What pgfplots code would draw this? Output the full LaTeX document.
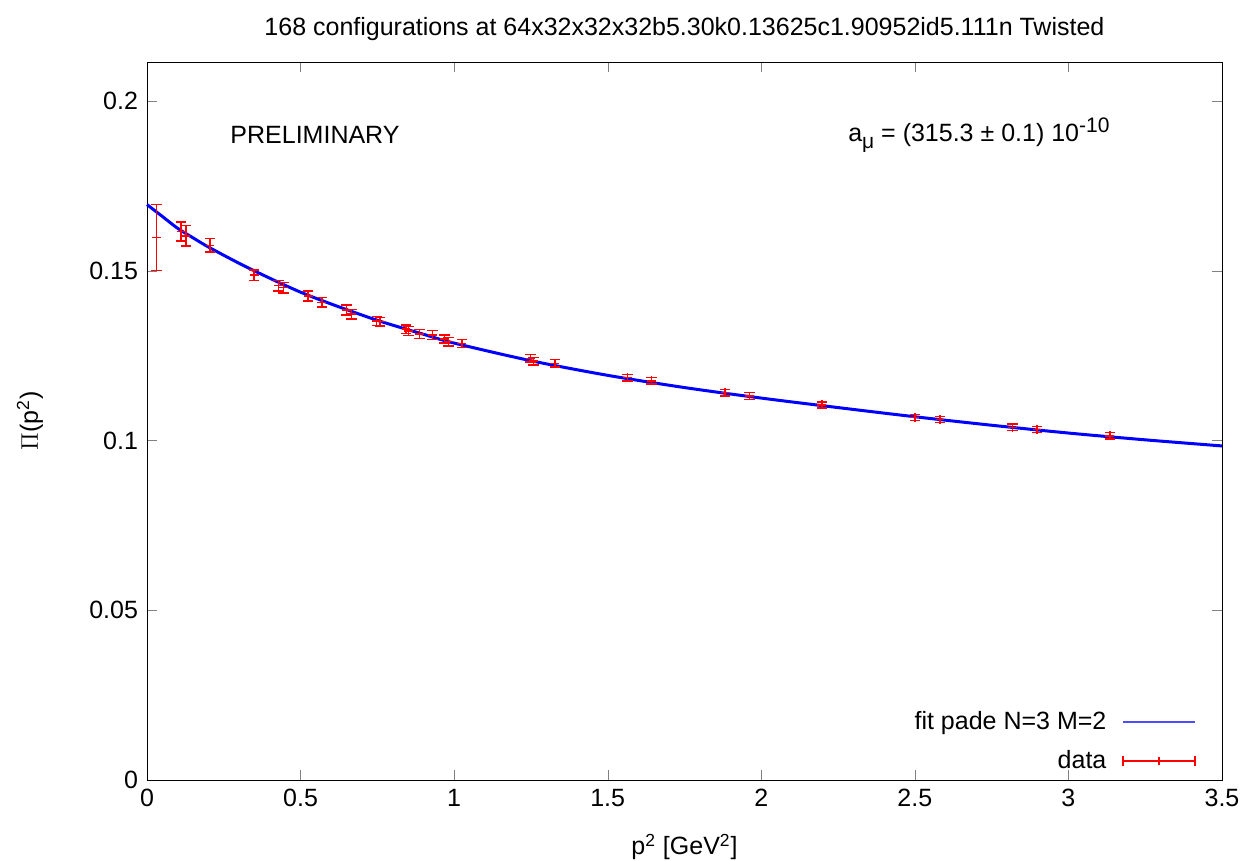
\documentclass[border=0pt]{standalone}
\usepackage{pgfplots}
\usepackage{pgfplotstable}
\pgfplotsset{compat=1.18}
\usepackage{fontspec}
\setmainfont{Liberation Sans}
\pgfplotstableread{
x y e
0.031 0.1598 0.0097
0.111 0.1615 0.0028
0.127 0.1603 0.0030
0.205 0.1575 0.0020
0.349 0.1487 0.0016
0.428 0.1456 0.0015
0.444 0.1450 0.0015
0.525 0.1426 0.0015
0.569 0.1407 0.0014
0.650 0.1384 0.0015
0.666 0.1372 0.0014
0.748 0.1352 0.0013
0.759 0.1350 0.0013
0.843 0.1328 0.0013
0.851 0.1323 0.0013
0.887 0.1314 0.0013
0.930 0.1311 0.0013
0.968 0.1299 0.0012
0.981 0.1291 0.0012
1.025 0.1286 0.0012
1.249 0.1242 0.0011
1.258 0.1234 0.0011
1.328 0.1227 0.0011
1.564 0.1185 0.0010
1.643 0.1176 0.0010
1.882 0.1141 0.0010
1.961 0.1131 0.0010
2.197 0.1105 0.0009
2.500 0.1068 0.0009
2.582 0.1062 0.0009
2.818 0.1039 0.0009
2.898 0.1033 0.0009
3.135 0.1014 0.0009
}\datatable
\begin{document}
\begin{tikzpicture}
\begin{axis}[
  at={(0,0)}, anchor=south west,
  scale only axis, width=537.5pt, height=359pt,
  xmin=0, xmax=3.5, ymin=0, ymax=0.2115,
  xtick={0,0.5,...,3.5}, ytick={0,0.05,0.1,0.15,0.2},
  tick align=inside, tick pos=both,
  major tick length=5pt,
  /pgf/number format/assume math mode=true,
  /pgf/number format/fixed,
  /pgf/number format/precision=2,
  scaled y ticks=false,
  tick label style={font=\fontsize{12.5}{15}\selectfont},
  xticklabel style={yshift=-1pt},
  yticklabel style={xshift=-1pt},
  label style={font=\fontsize{12.5}{15}\selectfont},
  xlabel={p\textsuperscript{2} [GeV\textsuperscript{2}]},
  xlabel style={at={(axis description cs:0.5,0)}, anchor=center, yshift=-33.5pt},
  title={168 configurations at 64x32x32x32b5.30k0.13625c1.90952id5.111n Twisted},
  title style={font=\fontsize{12.5}{15}\selectfont, at={(axis description cs:0.5,1)}, anchor=center, yshift=10.5pt},
  legend plot pos=right,
  legend cell align=right,
  legend style={draw=none, fill=none, at={(rel axis cs:1,0)}, anchor=south east,
    xshift=-10pt, yshift=0pt,
    font=\fontsize{12.5}{15}\selectfont, row sep=5pt,
    /tikz/every odd column/.append style={column sep=6pt}},
  clip=false,
]
\addplot[blue, line width=1.5pt, smooth, forget plot]
coordinates {
(0,0.1695) (0.05,0.1660) (0.1,0.1625) (0.15,0.1597) (0.2,0.1570) (0.3,0.1522)
(0.4,0.1478) (0.5,0.1437) (0.6,0.1402) (0.75,0.1354) (0.9,0.1313) (1.0,0.1287)
(1.25,0.1235) (1.5,0.1192) (1.75,0.1156) (2.0,0.1125) (2.25,0.1097) (2.5,0.1070)
(2.75,0.1045) (3.0,0.1022) (3.25,0.1002) (3.5,0.0984)
};
\addplot[color=red, only marks, mark=+, mark size=2.2pt, line width=0.75pt, forget plot,
  mark options={color=red, solid},
  error bars/.cd, y dir=both, y explicit, error mark=none,
  error bar style={color=red, line width=0.75pt}]
  table[x=x, y=y, y error=e] {\datatable};
\addplot[color=red, only marks, mark=-, mark size=2.6pt, line width=0.75pt, forget plot, mark options={color=red, solid}]
  table[x=x, y expr=\thisrow{y}+\thisrow{e}] {\datatable};
\addplot[color=red, only marks, mark=-, mark size=2.6pt, line width=0.75pt, forget plot, mark options={color=red, solid}]
  table[x=x, y expr=\thisrow{y}-\thisrow{e}] {\datatable};
\addlegendimage{legend image code/.code={\draw[blue!70, line width=0.6pt] (0pt,0pt)--(36pt,0pt);}}
\addlegendentry{fit pade N=3 M=2}
\addlegendimage{legend image code/.code={\draw[red, line width=0.6pt] (0pt,0pt)--(36pt,0pt);
  \draw[red, line width=0.6pt] (0pt,-2.6pt)--(0pt,2.6pt);
  \draw[red, line width=0.6pt] (36pt,-2.6pt)--(36pt,2.6pt);
  \draw[red, line width=0.6pt] (18pt,-2.2pt)--(18pt,2.2pt);}}
\addlegendentry{data}
\node[font=\fontsize{12.5}{15}\selectfont] at (axis cs:0.547,0.190) {PRELIMINARY};
\node[font=\fontsize{12.5}{15}\selectfont, anchor=west, inner sep=0pt] at (axis cs:2.282,0.190)
  {a\raisebox{-3.5pt}{\fontsize{10.5}{12}\selectfont μ}\ = (315.3\ ±\ 0.1)\ 10\raisebox{4.5pt}{\fontsize{10.5}{12}\selectfont -10}};
\node[font=\fontsize{12.5}{15}\selectfont, rotate=90] at ([xshift=-58.5pt]rel axis cs:0,0.5) {$\Pi$(p\textsuperscript{2})};
\end{axis}
\pgfresetboundingbox
\path (-73.5pt,-40.5pt) rectangle (551pt,390pt);
\end{tikzpicture}
\end{document}
